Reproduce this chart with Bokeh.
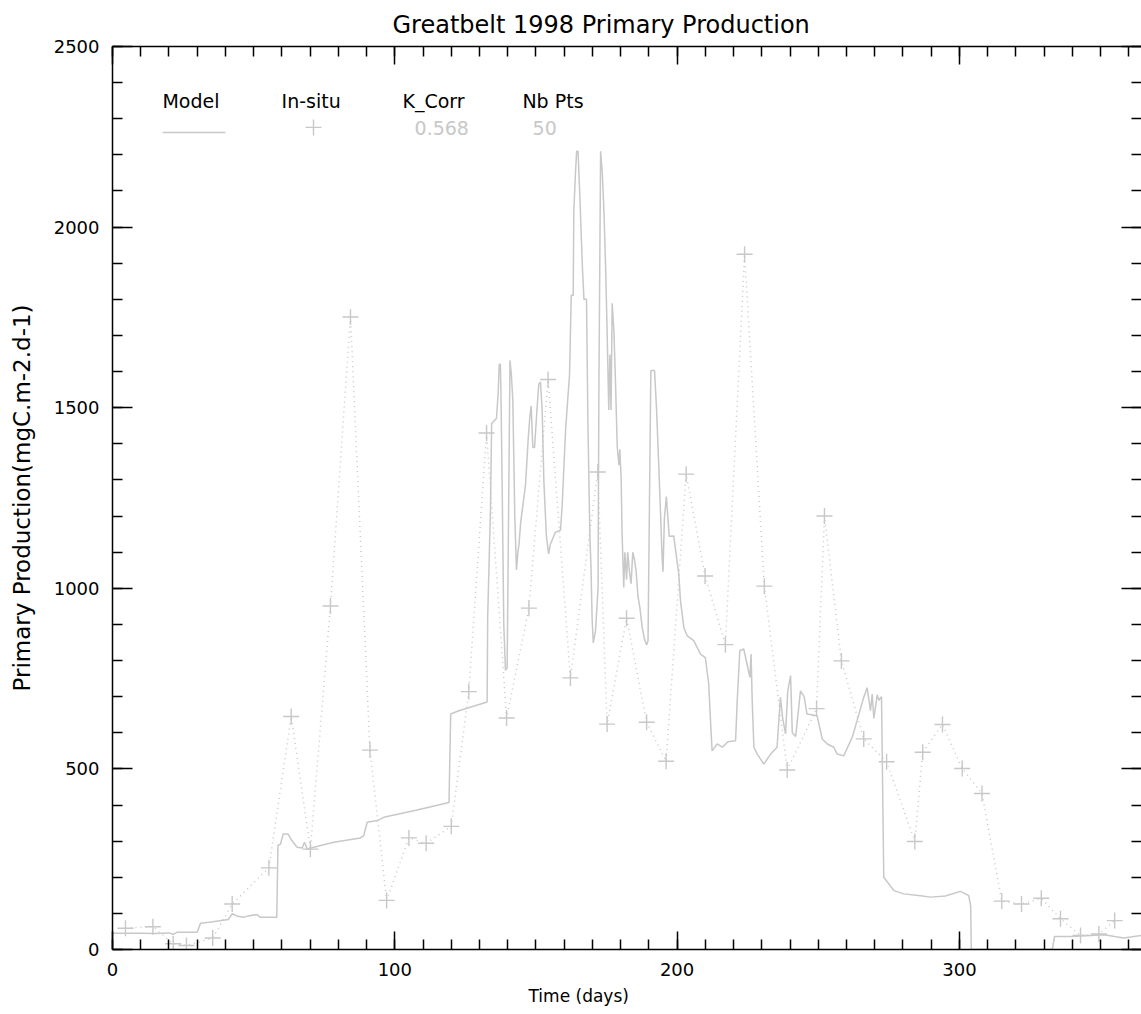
from bokeh.plotting import figure
from bokeh.models import Range1d, LinearAxis, FixedTicker, Title, Label
from bokeh.embed import file_html
from bokeh.resources import INLINE

# ---------------- data ----------------
model_day = [0, 5, 10, 15, 20, 21.5, 23, 30, 31.2, 35, 41, 42.4, 44, 46.5, 48, 51.2, 52.4, 58.2,
             58.6, 59.5, 60.5, 62.1, 63.6, 65.4, 67.2, 68, 69, 71.3, 78.4, 87.8, 89, 90.2, 93.8, 96.1,
             107.9, 119.2, 119.8, 122.7, 132.7, 132.9, 133.9, 134.3, 136.0, 136.6, 137.0, 137.4, 137.7,
             138.1, 138.6, 139.2, 139.8, 140.3, 140.8, 141.3, 141.8, 142.5, 143.1, 143.6, 144.0, 144.6,
             146.3, 147.2, 147.8, 148.3, 148.9, 149.5, 150.4, 151.0, 151.6, 152.2, 152.8, 153.7, 154.5,
             155.1, 156.9, 158.7, 159.3, 160.5, 161.3, 161.9, 162.5, 163.2, 163.4, 164.0, 164.4, 164.9,
             165.5, 166.4, 167.0, 167.9, 168.4, 169.1, 169.5, 169.9, 170.3, 171.1, 172.0, 172.3, 172.9,
             173.5, 174.1, 174.7, 175.2, 175.8, 176.2, 176.6, 177.0, 177.6, 178.2, 178.8, 179.4, 179.7,
             180.2, 180.5, 181.1, 181.5, 182.1, 182.5, 183.1, 183.7, 184.3, 184.9, 185.5, 186.1, 186.8,
             187.6, 188.4, 189.2, 189.7, 190.2, 190.7, 192.0, 192.7, 193.5, 194.1, 194.7, 195.0, 195.5,
             196.2, 196.7, 197.2, 198.8, 200.6, 201.2, 202.4, 203.6, 205.9, 208.3, 210.0, 211.2, 212.0,
             212.4, 214.2, 216, 218, 220.7, 221.3, 222.2, 223.6, 225.8, 226.2, 226.6, 227.2, 228.4, 230.7,
             233.1, 235.4, 236.6, 237.4, 238.4, 239.2, 240.2, 240.8, 242.0, 243.7, 245.0, 246.0, 249.6,
             251.4, 253.2, 255.5, 256.7, 259.0, 262.0, 263.2, 266.1, 267.3, 268.5, 269.1, 269.7, 270.9,
             271.5, 272.4, 272.6, 273.2, 276.8, 280.3, 286.2, 289.8, 295, 300.4, 303.3, 304.0, 304.2,
             332.9, 333.7, 339.4, 345, 351.2, 355, 358.2, 364.5]
model_pp = [45, 45, 45, 44, 46, 42, 48, 48, 73, 76, 83, 99, 93, 89, 93, 97, 89, 89,
            288, 292, 320, 320, 301, 283, 281, 297, 278, 283, 297, 309, 315, 352, 357, 366,
            386, 407, 652, 661, 685, 919, 1223, 1456, 1470, 1538, 1620, 1620, 1488,
            1237, 900, 773, 780, 1204, 1631, 1590, 1521, 1200, 1051, 1100, 1122, 1183,
            1286, 1407, 1472, 1505, 1390, 1390, 1499, 1565, 1571, 1494, 1297, 1144, 1095,
            1122, 1155, 1161, 1232, 1439, 1527, 1592, 1811, 1811, 2041, 2150, 2210, 2210,
            2095, 1899, 1800, 1800, 1461, 1144, 1057, 915, 849, 882, 1002, 1560, 2210,
            2150, 2041, 1882, 1713, 1494, 1647, 1494, 1789, 1713, 1565, 1390, 1341, 1385,
            1297, 1155, 1002, 1100, 1024, 1100, 1046, 1013, 1100, 1079, 1046, 980, 947,
            893, 860, 843, 855, 1232, 1603, 1603, 1499, 1341, 1215, 1084, 1046, 1194,
            1254, 1199, 1144, 1145, 1039, 965, 891, 868, 855, 818, 808, 735, 606,
            550, 569, 560, 575, 578, 689, 827, 832, 753, 818, 689, 560, 541, 513,
            541, 560, 698, 640, 597, 716, 758, 600, 590, 716, 700, 652, 647,
            583, 569, 560, 541, 536, 587, 619, 698, 725, 661, 707, 640, 705,
            690, 700, 578, 200, 163, 154, 149, 145, 148, 161, 149, 120, 0,
            0, 36, 36, 38, 41, 36, 32, 39]

insitu_day = [4.6, 14.3, 21.5, 26.2, 35.5, 42.4, 55.4, 63.3, 70.1, 77.2, 84.3, 91.2, 97.1, 105.0,
              111.1, 120.0, 126.2, 132.5, 139.6, 147.5, 154.3, 162.2, 171.9, 175.2, 182.1, 189.2,
              196.1, 203.2, 209.9, 217.1, 223.9, 230.9, 239.0, 249.4, 252.2, 258.2, 266.1, 274.2,
              284.2, 287.0, 294.0, 301.0, 308.0, 315.0, 322.0, 329.0, 335.8, 342.9, 349.4, 355.0]
insitu_pp = [59, 63, 16, 11, 32, 126, 226, 645, 278, 951, 1751, 552, 136, 309,
             294, 341, 714, 1430, 641, 945, 1578, 752, 1322, 624, 917, 629,
             521, 1316, 1034, 844, 1925, 1006, 497, 667, 1200, 799, 583, 520,
             299, 546, 623, 501, 432, 134, 126, 142, 85, 39, 43, 80]

x_ticks = [0, 100, 200, 300]
x_minor = list(range(0, 361, 10))
y_ticks = [0, 500, 1000, 1500, 2000, 2500]
y_minor = list(range(0, 2501, 100))

title_text = "Greatbelt 1998 Primary Production"
x_title = "Time (days)"
y_title = "Primary Production(mgC.m-2.d-1)"
legend_heads = ["Model", "In-situ", "K_Corr", "Nb Pts"]
k_corr = "0.568"
nb_pts = "50"

GRAY = "#c8c8c8"
FONT = "DejaVu Sans"

p = figure(width=1141, height=1014, x_range=Range1d(0, 364.5), y_range=Range1d(0, 2500),
           output_backend="svg", toolbar_location=None,
           x_axis_location=None, y_axis_location=None,
           min_border_left=112, min_border_right=0, min_border_top=45, min_border_bottom=65)
p.outline_line_color = None
p.background_fill_color = "white"
p.border_fill_color = "white"
for g in p.grid:
    g.visible = False


def style_axis(ax, major_in, minor_in, labels=True):
    ax.axis_line_color = "black"
    ax.axis_line_width = 1.5
    ax.major_tick_line_color = "black"
    ax.minor_tick_line_color = "black"
    ax.major_tick_line_width = 1.5
    ax.minor_tick_line_width = 1.5
    ax.major_tick_in = major_in
    ax.major_tick_out = 0
    ax.minor_tick_in = minor_in
    ax.minor_tick_out = 0
    ax.major_label_text_font = FONT
    if labels:
        ax.major_label_text_color = "black"
        ax.major_label_text_font_size = "18px"
        ax.major_label_standoff = 13
    else:
        ax.major_label_text_color = None
        ax.major_label_text_font_size = "0px"
        ax.major_label_standoff = 0


# top axis first (closest to the frame), then the title above it
xt = LinearAxis(ticker=FixedTicker(ticks=x_ticks, minor_ticks=x_minor))
style_axis(xt, 18, 10, labels=False)
p.add_layout(xt, "above")

top_title = Title(text=title_text, align="left", offset=280, standoff=16,
                  text_font=FONT, text_font_size="24px", text_font_style="normal",
                  text_color="black")
p.add_layout(top_title, "above")

xb = LinearAxis(ticker=FixedTicker(ticks=x_ticks, minor_ticks=x_minor))
style_axis(xb, 18, 10)
p.add_layout(xb, "below")

bottom_title = Title(text=x_title, align="left", offset=416, standoff=10,
                     text_font=FONT, text_font_size="17px", text_font_style="normal",
                     text_color="black")
p.add_layout(bottom_title, "below")

yl = LinearAxis(ticker=FixedTicker(ticks=y_ticks, minor_ticks=y_minor))
style_axis(yl, 20, 10)
yl.axis_label = y_title
yl.axis_label_text_font = FONT
yl.axis_label_text_font_size = "23px"
yl.axis_label_text_font_style = "normal"
yl.axis_label_text_color = "black"
yl.axis_label_standoff = 16
p.add_layout(yl, "left")

yr = LinearAxis(ticker=FixedTicker(ticks=y_ticks, minor_ticks=y_minor))
style_axis(yr, 20, 10, labels=False)
yr.axis_line_color = None
p.add_layout(yr, "right")

# data
p.line(model_day, model_pp, line_color=GRAY, line_width=1.5)
p.line(insitu_day, insitu_pp, line_color=GRAY, line_width=1.5, line_dash="1 4")
p.scatter(insitu_day, insitu_pp, marker="cross", size=16, line_color=GRAY, line_width=1.4)

# legend table (annotation positions)
head_x = [17.7, 59.9, 102.7, 145.2]
for hx, ht in zip(head_x, legend_heads):
    p.add_layout(Label(x=hx, y=2348, text=ht, text_align="left", text_baseline="middle",
                       text_font=FONT, text_font_size="19px", text_color="black"))
p.line([17.7, 40.0], [2262, 2262], line_color=GRAY, line_width=1.5)
p.scatter([71.2], [2276], marker="cross", size=16, line_color=GRAY, line_width=1.4)
p.add_layout(Label(x=107.0, y=2273, text=k_corr, text_align="left", text_baseline="middle",
                   text_font=FONT, text_font_size="19px", text_color=GRAY))
p.add_layout(Label(x=148.8, y=2273, text=nb_pts, text_align="left", text_baseline="middle",
                   text_font=FONT, text_font_size="19px", text_color=GRAY))

open("out.html", "w").write(file_html(p, INLINE))
